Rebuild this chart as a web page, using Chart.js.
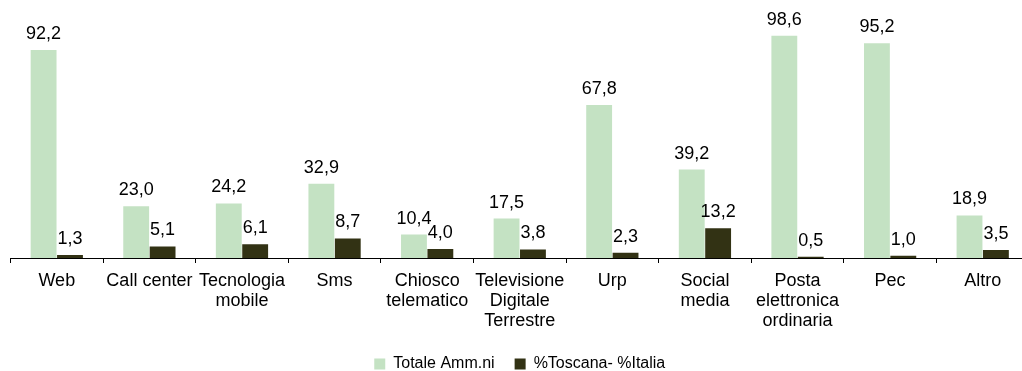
<!DOCTYPE html>
<html>
<head>
<meta charset="utf-8">
<script src="https://cdn.jsdelivr.net/npm/chart.js@4"></script>
<style>
  html, body { margin: 0; padding: 0; background: #fff; overflow: hidden; }
  canvas { display: block; }
</style>
</head>
<body>
<canvas id="grafico_canali" width="1030" height="382"></canvas>
<script>
const categorie = [
  'Web', 'Call center', ['Tecnologia', 'mobile'], 'Sms', ['Chiosco', 'telematico'],
  ['Televisione', 'Digitale', 'Terrestre'], 'Urp', ['Social', 'media'],
  ['Posta', 'elettronica', 'ordinaria'], 'Pec', 'Altro'
];
const totaleAmm = [92.2, 23.0, 24.2, 32.9, 10.4, 17.5, 67.8, 39.2, 98.6, 95.2, 18.9];
const diffToscanaItalia = [1.3, 5.1, 6.1, 8.7, 4.0, 3.8, 2.3, 13.2, 0.5, 1.0, 3.5];

document.addEventListener('DOMContentLoaded', function() {
  const ctx = document.getElementById('grafico_canali').getContext('2d');

  Chart.defaults.font.family = '"Liberation Sans", Arial, sans-serif';
  Chart.defaults.color = '#000';

  // scrive il valore sopra ogni barra, con la virgola decimale
  const etichetteValori = {
    id: 'etichetteValori',
    afterDatasetsDraw(chart) {
      const c = chart.ctx;
      c.save();
      c.font = '18px "Liberation Sans", Arial, sans-serif';
      c.fillStyle = '#000';
      c.textAlign = 'center';
      c.textBaseline = 'alphabetic';
      chart.data.datasets.forEach((ds, i) => {
        chart.getDatasetMeta(i).data.forEach((bar, j) => {
          const testo = ds.data[j].toFixed(1).replace('.', ',');
          c.fillText(testo, bar.x, bar.y - 11);
        });
      });
      c.restore();
    }
  };

  const data = {
    labels: categorie,
    datasets: [{
      label: 'Totale Amm.ni',
      data: totaleAmm,
      backgroundColor: '#c4e2c3',
      barPercentage: 0.98,
      categoryPercentage: 0.57
    }, {
      label: '%Toscana- %Italia',
      data: diffToscanaItalia,
      backgroundColor: '#323214',
      barPercentage: 0.98,
      categoryPercentage: 0.57
    }]
  };

  const config = {
    type: 'bar',
    data,
    options: {
      responsive: false,
      animation: false,
      layout: {
        padding: { left: 10.5, right: 1, top: 32.5, bottom: 0 }
      },
      scales: {
        x: {
          offset: true,
          grid: {
            offset: true,
            drawOnChartArea: false,
            drawTicks: true,
            tickLength: 5,
            color: '#000'
          },
          border: { color: '#000', width: 1 },
          ticks: {
            font: { size: 18, lineHeight: 1.111 },
            color: '#000',
            maxRotation: 0,
            autoSkip: false,
            padding: 8
          },
          // spazio fisso sotto l'asse, fino alla legenda
          afterFit(scale) {
            scale.height = 78;
          }
        },
        y: {
          display: false,
          min: 0,
          max: 100
        }
      },
      plugins: {
        legend: {
          position: 'bottom',
          labels: {
            boxWidth: 11,
            boxHeight: 11,
            padding: 20,
            font: { size: 16 },
            color: '#000'
          }
        },
        tooltip: { enabled: false }
      }
    },
    plugins: [etichetteValori]
  };

  const grafico = new Chart(ctx, config);
});
</script>
</body>
</html>
